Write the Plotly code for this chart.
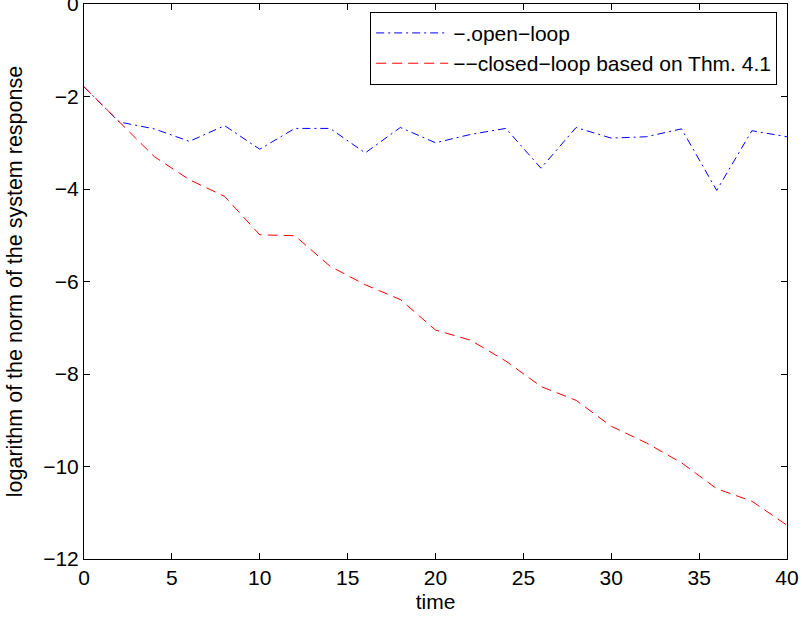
import plotly.graph_objects as go

time = [0, 2, 4, 6, 8, 10, 12, 14, 16, 18, 20, 22, 24, 26, 28, 30, 32, 34, 36, 38, 40]
open_loop = [-1.79, -2.55, -2.70, -2.97, -2.63, -3.14, -2.69, -2.69, -3.22, -2.67, -3.00,
             -2.82, -2.69, -3.55, -2.67, -2.90, -2.87, -2.70, -4.03, -2.74, -2.87]
closed_loop = [-1.79, -2.55, -3.30, -3.80, -4.16, -4.99, -5.01, -5.67, -6.07, -6.39, -7.05,
               -7.27, -7.72, -8.27, -8.57, -9.13, -9.49, -9.92, -10.48, -10.75, -11.27]
x_ticks = [0, 5, 10, 15, 20, 25, 30, 35, 40]
y_ticks = [-12, -10, -8, -6, -4, -2, 0]

FONT = "Liberation Sans, Arial, Helvetica, sans-serif"

fig = go.Figure()
fig.add_trace(go.Scatter(
    x=time, y=open_loop, mode="lines", name="\u2212.open\u2212loop",
    line=dict(color="rgb(0,0,255)", width=1, dash="8px,4px,2px,4px"),
))
fig.add_trace(go.Scatter(
    x=time, y=closed_loop, mode="lines", name="\u2212\u2212closed\u2212loop based on Thm. 4.1",
    line=dict(color="rgb(255,0,0)", width=1, dash="10px,6px"),
))

axis_common = dict(
    showline=True, linecolor="black", linewidth=1, mirror="ticks",
    ticks="inside", ticklen=6, tickcolor="black", tickwidth=1,
    showgrid=False, zeroline=False, automargin=False,
    ticklabeloverflow="allow",
    tickfont=dict(family=FONT, size=21, color="black"),
)

fig.update_layout(
    width=802, height=618,
    margin=dict(l=84, r=15, t=4, b=59, autoexpand=False),
    paper_bgcolor="white", plot_bgcolor="white",
    font=dict(family=FONT, size=21, color="black"),
    xaxis=dict(range=[0, 40], tickvals=x_ticks, **axis_common,
               title=dict(text="time", font=dict(family=FONT, size=21), standoff=6)),
    yaxis=dict(range=[-12, 0], tickvals=y_ticks, **axis_common,
               title=dict(text="logarithm of the norm of the system response",
                          font=dict(family=FONT, size=21.5), standoff=14)),
    legend=dict(x=0.986, y=0.986, xanchor="right", yanchor="top",
                bgcolor="white", bordercolor="black", borderwidth=1,
                font=dict(family=FONT, size=21, color="black"),
                itemwidth=72),
    showlegend=True,
)

fig.write_html("out.html", config={"displayModeBar": False},
               post_script="document.body.style.margin='0';document.body.style.padding='0';")
